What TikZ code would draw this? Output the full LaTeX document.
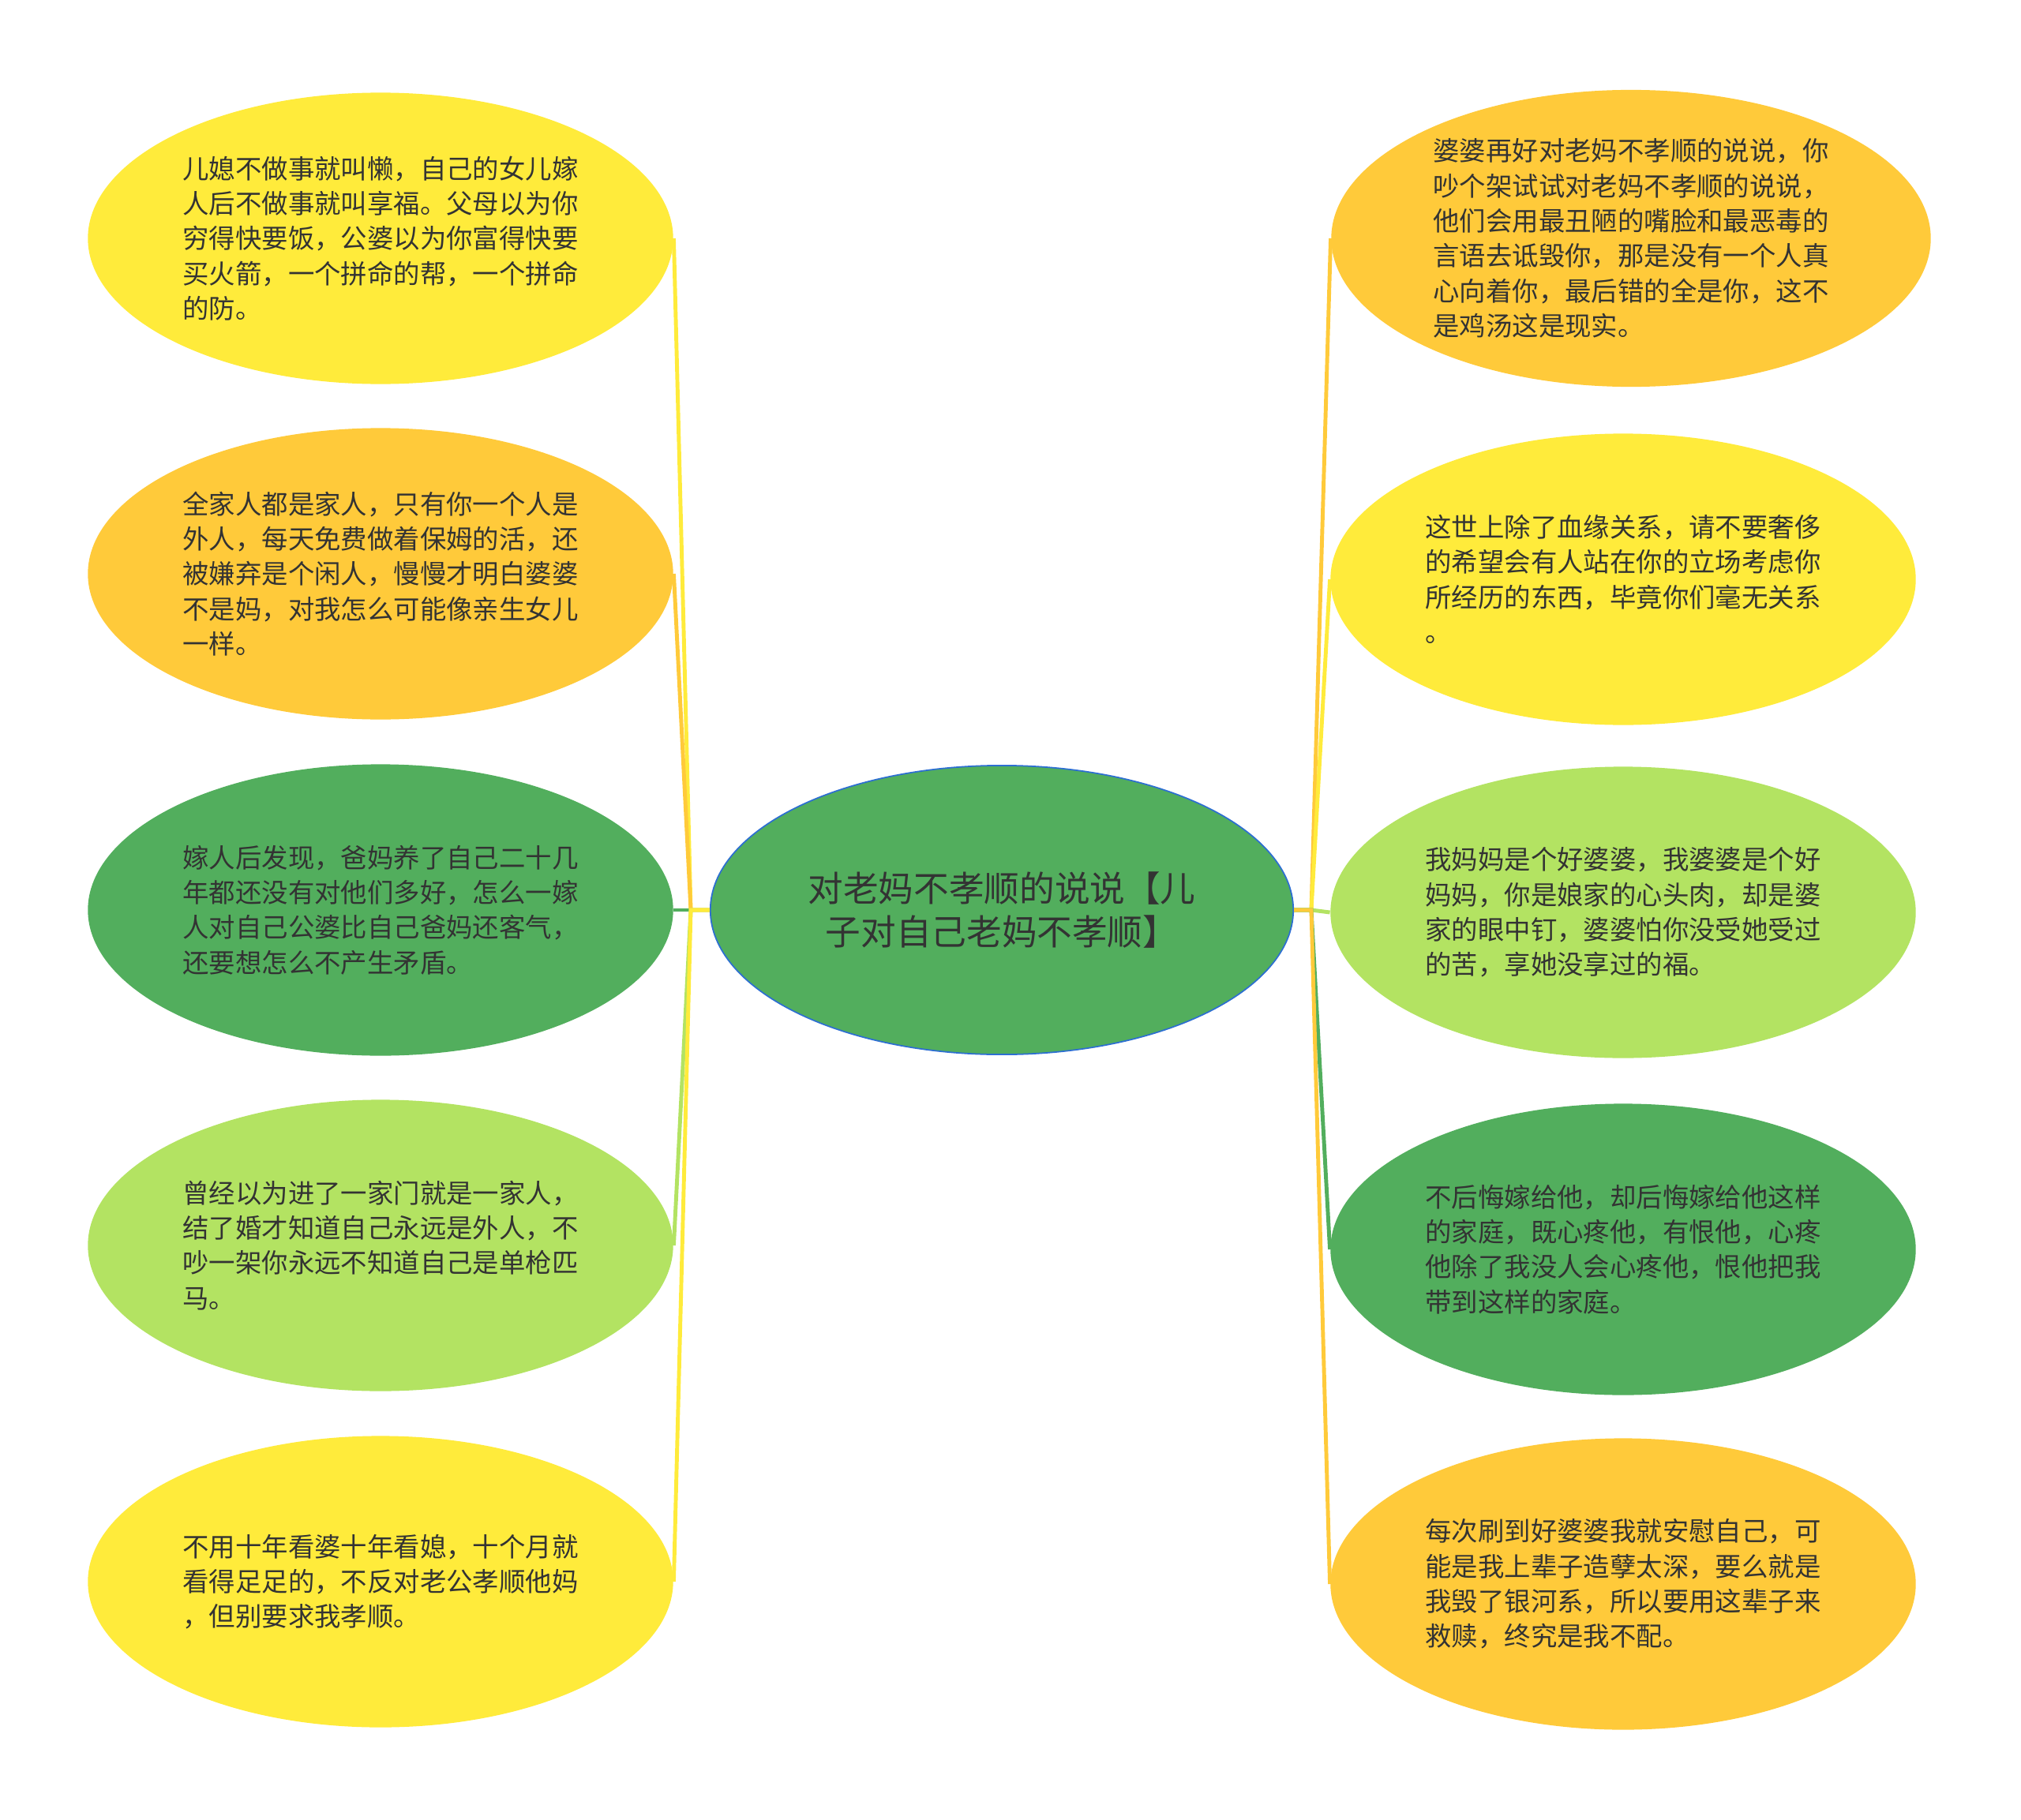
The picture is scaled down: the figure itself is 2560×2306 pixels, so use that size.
\documentclass[tikz,border=0pt]{standalone}
\usepackage{fontspec}
\setmainfont{Noto Sans CJK SC}
\usepackage{xcolor}
\usetikzlibrary{shapes.geometric}
\definecolor{mmyellow}{HTML}{FFEB3B}
\definecolor{mmorange}{HTML}{FFCA3A}
\definecolor{mmgreen}{HTML}{52AE5D}
\definecolor{mmlime}{HTML}{B3E362}
\definecolor{mmblue}{HTML}{2D6FD1}
\definecolor{mmtext}{HTML}{333333}

\begin{document}
\begin{tikzpicture}[x=0.01cm,y=-0.01cm,
  leaf/.style={ellipse,inner sep=0pt,minimum width=7.41cm,minimum height=3.69cm,
    align=left,text=mmtext,font=\fontsize{9.5pt}{12.6pt}\selectfont},
  hub/.style={ellipse,draw=mmblue,line width=0.5pt,fill=mmgreen,inner sep=0pt,
    minimum width=7.38cm,minimum height=3.66cm,align=center,text=mmtext,
    font=\fontsize{12.7pt}{15.8pt}\selectfont},
  link/.style={line width=1.4pt}]
\useasboundingbox (0,0) rectangle (2560,2306);
\node[hub] (root) at (1269,1153) {对老妈不孝顺的说说【儿\\子对自己老妈不孝顺】};
\node[leaf,fill=mmyellow] (l1) at (482,302) {儿媳不做事就叫懒，自己的女儿嫁\\人后不做事就叫享福。父母以为你\\穷得快要饭，公婆以为你富得快要\\买火箭，一个拼命的帮，一个拼命\\的防。};
\node[leaf,fill=mmorange] (l2) at (482,727) {全家人都是家人，只有你一个人是\\外人，每天免费做着保姆的活，还\\被嫌弃是个闲人，慢慢才明白婆婆\\不是妈，对我怎么可能像亲生女儿\\一样。};
\node[leaf,fill=mmgreen] (l3) at (482,1153) {嫁人后发现，爸妈养了自己二十几\\年都还没有对他们多好，怎么一嫁\\人对自己公婆比自己爸妈还客气，\\还要想怎么不产生矛盾。};
\node[leaf,fill=mmlime] (l4) at (482,1578) {曾经以为进了一家门就是一家人，\\结了婚才知道自己永远是外人，不\\吵一架你永远不知道自己是单枪匹\\马。};
\node[leaf,fill=mmyellow] (l5) at (482,2004) {不用十年看婆十年看媳，十个月就\\看得足足的，不反对老公孝顺他妈\\，但别要求我孝顺。};
\node[leaf,fill=mmorange,minimum width=7.59cm,minimum height=3.76cm] (r1) at (2066,302) {婆婆再好对老妈不孝顺的说说，你\\吵个架试试对老妈不孝顺的说说，\\他们会用最丑陋的嘴脸和最恶毒的\\言语去诋毁你，那是没有一个人真\\心向着你，最后错的全是你，这不\\是鸡汤这是现实。};
\node[leaf,fill=mmyellow] (r2) at (2056,734) {这世上除了血缘关系，请不要奢侈\\的希望会有人站在你的立场考虑你\\所经历的东西，毕竟你们毫无关系\\。};
\node[leaf,fill=mmlime] (r3) at (2056,1156) {我妈妈是个好婆婆，我婆婆是个好\\妈妈，你是娘家的心头肉，却是婆\\家的眼中钉，婆婆怕你没受她受过\\的苦，享她没享过的福。};
\node[leaf,fill=mmgreen] (r4) at (2056,1583) {不后悔嫁给他，却后悔嫁给他这样\\的家庭，既心疼他，有恨他，心疼\\他除了我没人会心疼他，恨他把我\\带到这样的家庭。};
\node[leaf,fill=mmorange] (r5) at (2056,2007) {每次刷到好婆婆我就安慰自己，可\\能是我上辈子造孽太深，要么就是\\我毁了银河系，所以要用这辈子来\\救赎，终究是我不配。};
\coordinate (jl) at (875,1153);
\coordinate (jr) at (1661,1153);
\draw[link,mmyellow] (root.west) -- (jl) -- (l1.east);
\draw[link,mmorange] (root.west) -- (jl) -- (l2.east);
\draw[link,mmgreen] (root.west) -- (jl) -- (l3.east);
\draw[link,mmlime] (root.west) -- (jl) -- (l4.east);
\draw[link,mmyellow] (root.west) -- (jl) -- (l5.east);
\draw[link,mmorange] (root.east) -- (jr) -- (r1.west);
\draw[link,mmyellow] (root.east) -- (jr) -- (r2.west);
\draw[link,mmlime] (root.east) -- (jr) -- (r3.west);
\draw[link,mmgreen] (root.east) -- (jr) -- (r4.west);
\draw[link,mmorange] (root.east) -- (jr) -- (r5.west);
\end{tikzpicture}
\end{document}
